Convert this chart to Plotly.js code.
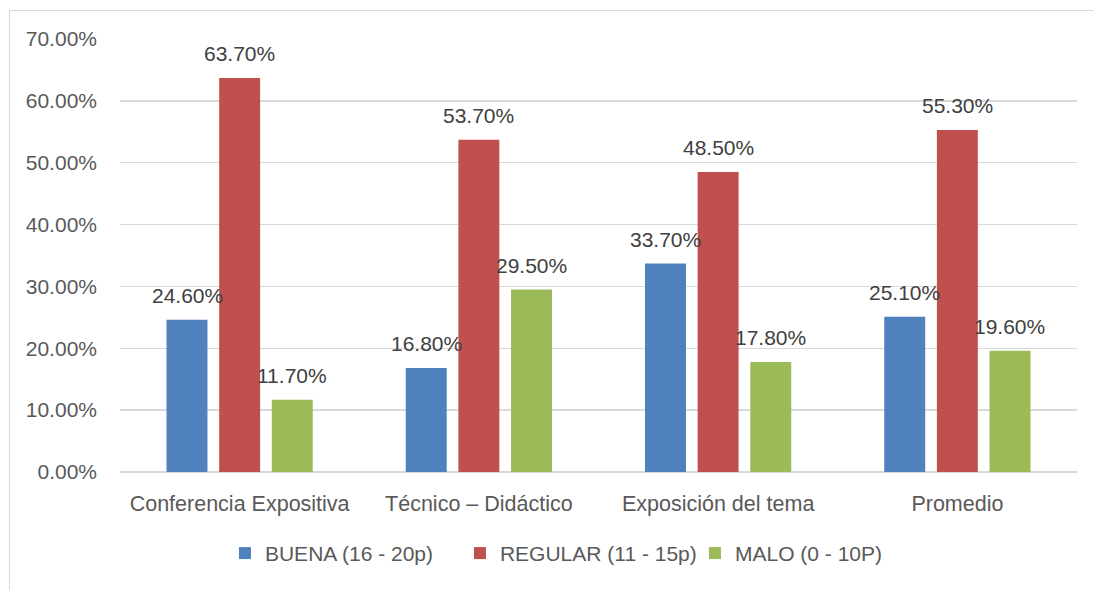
<!DOCTYPE html>
<html>
<head>
<meta charset="utf-8">
<script src="https://cdn.plot.ly/plotly-3.0.1.min.js"></script>
<style>
  html, body { margin: 0; padding: 0; background: #ffffff; }
  #frame { position: absolute; left: 9px; top: 10px; width: 1200px; height: 700px; border: 1.5px solid #d9d9d9; box-sizing: border-box; }
  #chart { position: absolute; left: 0; top: 0; width: 1094px; height: 590px; }
</style>
</head>
<body>
<div id="frame"></div>
<div id="chart"></div>
<script>
const categories = ["Conferencia Expositiva", "Técnico – Didáctico", "Exposición del tema", "Promedio"];
const seriesNames = ["BUENA (16 - 20p)", "REGULAR (11 - 15p)", "MALO (0 - 10P)"];
const buena = [0.246, 0.168, 0.337, 0.251];
const regular = [0.637, 0.537, 0.485, 0.553];
const malo = [0.117, 0.295, 0.178, 0.196];
const colors = ["#4f81bd", "#c0504d", "#9bbb59"];

const seriesValues = [buena, regular, malo];
const FONT = "Liberation Sans, Arial, sans-serif";

const traces = seriesValues.map((vals, i) => ({
  type: "bar",
  name: seriesNames[i],
  x: categories,
  y: vals,
  marker: { color: colors[i] },
  hoverinfo: "skip"
}));

const annotations = [];
const slotPx = 52.6;
seriesValues.forEach((vals, i) => {
  vals.forEach((v, j) => {
    annotations.push({
      x: categories[j], y: v, xref: "x", yref: "y",
      text: (v * 100).toFixed(2) + "%",
      showarrow: false,
      xanchor: "center", yanchor: "bottom",
      xshift: (i - 1) * slotPx,
      yshift: 11,
      font: { family: FONT, size: 21, color: "#404040" }
    });
  });
});

const layout = {
  width: 1094, height: 590,
  paper_bgcolor: "rgba(0,0,0,0)",
  plot_bgcolor: "rgba(0,0,0,0)",
  margin: { l: 120, r: 17, t: 39, b: 118, autoexpand: false },
  barmode: "group",
  bargap: 0.34,
  bargroupgap: 0.222,
  showlegend: true,
  legend: {
    orientation: "h", x: 0.478, xanchor: "center",
    yref: "container", y: 0.062, yanchor: "middle",
    font: { family: FONT, size: 21, color: "#595959" },
    entrywidth: 190, entrywidthmode: "pixels",
    itemclick: false, itemdoubleclick: false
  },
  xaxis: {
    type: "category",
    tickfont: { family: FONT, size: 21.5, color: "#595959" },
    showgrid: false, showline: false, ticks: "",
    ticklabelstandoff: 16,
    fixedrange: true
  },
  yaxis: {
    range: [0, 0.7],
    dtick: 0.1, tick0: 0,
    tickformat: ".2%",
    tickfont: { family: FONT, size: 21, color: "#595959" },
    gridcolor: "#d9d9d9", gridwidth: 1.5,
    zeroline: true, zerolinecolor: "#d9d9d9", zerolinewidth: 1.5,
    showline: false, ticks: "",
    ticklabelstandoff: 22,
    fixedrange: true
  },
  annotations: annotations,
  font: { family: FONT }
};

Plotly.newPlot("chart", traces, layout, { displayModeBar: false, staticPlot: true });
</script>
</body>
</html>
